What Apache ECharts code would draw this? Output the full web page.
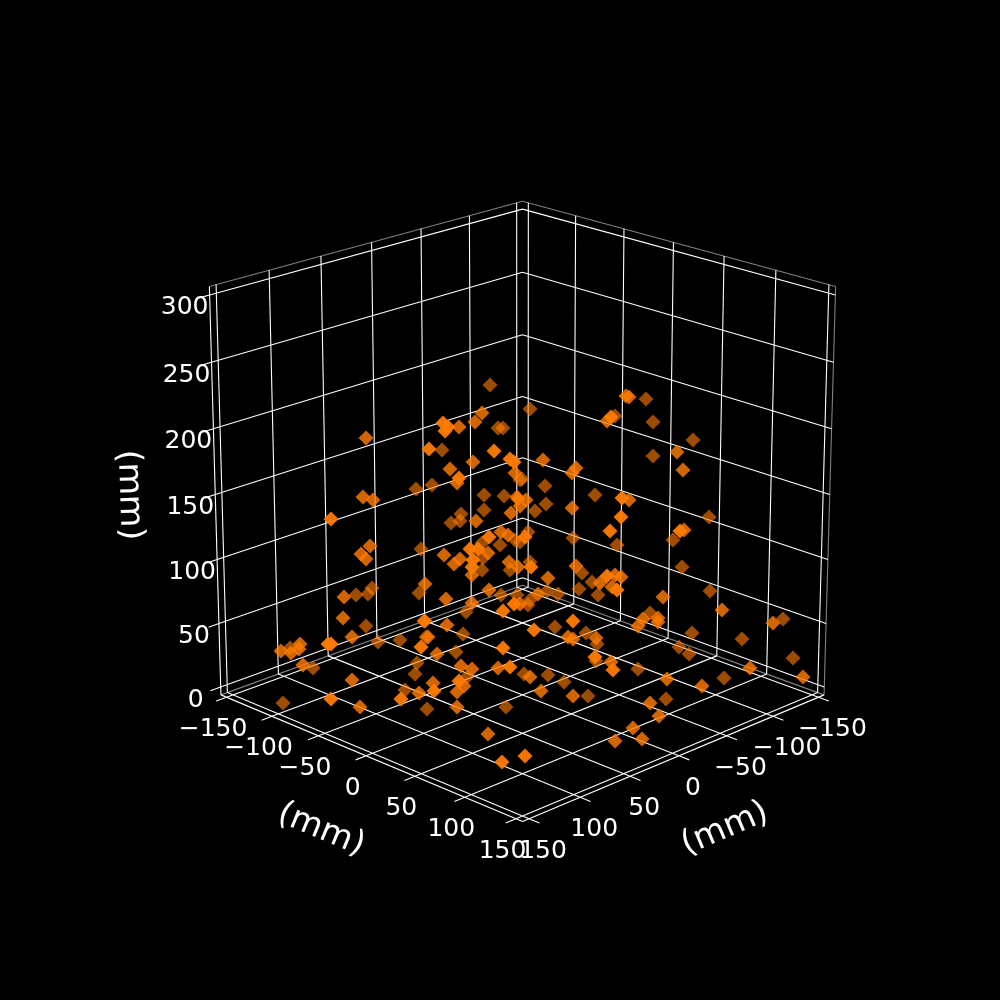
<!DOCTYPE html>
<html><head><meta charset="utf-8">
<style>html,body{margin:0;padding:0;background:#000}#c{width:1000px;height:1000px}</style>
<script src="https://cdn.jsdelivr.net/npm/echarts@6/dist/echarts.min.js"></script>
</head><body><div id="c"></div>
<script>
// Ticks of the three axes (mm)
const xTicks=[-150,-100,-50,0,50,100,150];
const yTicks=[-150,-100,-50,0,50,100,150];
const zTicks=[0,50,100,150,200,250,300];
const axisTitle='(mm)';
// Points, as positions on the projected view plane, grouped by depth shade
const nearPoints=[[328,644],[331,644],[331,699],[503,648],[534,630],[421,647],[459,681],[434,691],[401,699],[502,762],[525,756],[510,667],[573,621],[613,670],[595,657],[443,423],[448,427],[445,431],[494,451],[510,459],[514,462],[459,478],[331,519],[489,537],[525,537],[470,549],[478,549],[473,560],[472,567],[531,567],[503,611],[514,604],[611,417],[622,498],[621,517],[610,531],[680,531],[607,576],[617,590],[429,449]];
const midPoints=[[281,651],[300,644],[299,649],[291,653],[352,637],[343,618],[303,665],[352,680],[360,707],[425,621],[447,625],[428,637],[437,654],[461,666],[472,669],[433,683],[464,686],[419,693],[457,692],[457,707],[498,668],[530,677],[541,691],[488,734],[568,637],[643,619],[638,626],[658,618],[658,622],[722,610],[773,623],[803,677],[750,668],[702,686],[667,679],[650,703],[659,716],[611,662],[596,638],[573,639],[573,696],[633,728],[615,741],[642,739],[459,427],[475,422],[482,413],[366,438],[450,469],[473,462],[515,473],[457,483],[517,497],[363,497],[373,500],[370,546],[361,554],[366,559],[444,555],[425,584],[344,597],[446,599],[424,621],[518,499],[526,500],[520,506],[511,513],[476,521],[501,532],[508,535],[488,553],[460,559],[454,564],[472,575],[509,562],[518,567],[548,578],[489,590],[538,594],[472,603],[520,604],[626,396],[629,397],[607,421],[677,452],[683,470],[543,460],[576,468],[572,473],[629,500],[572,508],[684,530],[576,566],[600,583],[615,575],[621,577],[612,587],[663,597]];
const farPoints=[[290,648],[366,626],[378,642],[313,668],[283,703],[400,640],[426,637],[463,634],[456,652],[417,663],[415,674],[467,677],[405,690],[427,709],[555,627],[524,674],[548,675],[564,682],[506,707],[650,613],[783,619],[692,633],[742,639],[793,658],[724,678],[689,654],[679,647],[666,699],[638,669],[596,661],[597,644],[586,633],[588,696],[490,385],[498,428],[503,428],[442,450],[520,480],[416,489],[432,485],[484,495],[504,496],[421,549],[419,593],[372,588],[368,594],[356,595],[546,504],[484,510],[535,511],[461,514],[460,521],[451,523],[515,540],[520,542],[528,532],[482,543],[500,545],[483,558],[482,570],[530,562],[510,570],[501,595],[517,595],[547,591],[558,594],[466,612],[530,600],[528,605],[530,409],[646,399],[615,416],[653,422],[693,440],[653,456],[522,479],[545,486],[595,495],[709,517],[673,540],[573,538],[617,545],[682,567],[582,573],[592,582],[579,589],[598,595],[710,591]];

// View of the box (matplotlib-style perspective)
const L=156.25, zMin=-6.25, zMax=306.25;
const view={elev:20,azim:45,dist:10,half:0.55,cx:522.5,cy:494.5,scale:3950};
function project(x,y,z){
  const w=[x/L*view.half,y/L*view.half,(z-150)/156.25*view.half];
  const e=view.elev*Math.PI/180,a=view.azim*Math.PI/180;
  const r=[-Math.sin(a),Math.cos(a),0];
  const u=[-Math.sin(e)*Math.cos(a),-Math.sin(e)*Math.sin(a),Math.cos(e)];
  const n=[Math.cos(e)*Math.cos(a),Math.cos(e)*Math.sin(a),Math.sin(e)];
  const dot=(p,q)=>p[0]*q[0]+p[1]*q[1]+p[2]*q[2];
  const d=view.dist-dot(w,n);
  return [view.cx+dot(w,r)/d*view.scale,view.cy-dot(w,u)/d*view.scale];
}
function path(segs){const o=[];segs.forEach(s=>{s.forEach(p=>o.push(project(p[0],p[1],p[2])));o.push([null,null]);});return o;}

const gridSegs=[];
xTicks.forEach(t=>{gridSegs.push([[t,-L,zMin],[t,L,zMin]]);gridSegs.push([[t,-L,zMin],[t,-L,zMax]]);});
yTicks.forEach(t=>{gridSegs.push([[-L,t,zMin],[L,t,zMin]]);gridSegs.push([[-L,t,zMin],[-L,t,zMax]]);});
zTicks.forEach(t=>{gridSegs.push([[-L,-L,t],[L,-L,t]]);gridSegs.push([[-L,-L,t],[-L,L,t]]);});
const tickOut=10;
const axisSegs=[[[-L,L,zMin],[L,L,zMin]],[[L,-L,zMin],[L,L,zMin]],[[L,-L,zMin],[L,-L,zMax]]];
xTicks.forEach(t=>axisSegs.push([[t,L,zMin],[t,L+tickOut,zMin]]));
yTicks.forEach(t=>axisSegs.push([[L,t,zMin],[L+tickOut,t,zMin]]));
zTicks.forEach(t=>axisSegs.push([[L,-L,t],[L+tickOut,-L,t]]));
const paneSegs=[[[-L,-L,zMax],[L,-L,zMax]],[[-L,-L,zMax],[-L,L,zMax]],[[-L,L,zMin],[-L,L,zMax]],[[-L,-L,zMin],[L,-L,zMin]],[[-L,-L,zMin],[-L,L,zMin]]];

const fmt=t=>String(t).replace('-','\u2212');
const texts=[];
xTicks.forEach(t=>{const p=project(t,L,zMin);texts.push({value:[p[0]+14,p[1]+32.5],t:fmt(t),s:25,r:0});});
yTicks.forEach(t=>{const p=project(L,t,zMin);texts.push({value:[p[0]-13.5,p[1]+32.5],t:fmt(t),s:25,r:0});});
zTicks.forEach(t=>{const p=project(L,-L,t);texts.push({value:[p[0]-25,p[1]+13],t:fmt(t),s:25,r:0});});
texts.push({value:[725,829],t:axisTitle,s:33.3,r:23});
texts.push({value:[321,830],t:axisTitle,s:33.3,r:-22.5});
texts.push({value:[129,495],t:axisTitle,s:33.3,r:-88});

const lineSeries=(segs,color,width)=>({type:'line',data:path(segs),symbol:'none',silent:true,connectNulls:false,animation:false,z:1,
  lineStyle:{color:color,width:width}});
const dotSeries=(pts,op,z)=>({type:'scatter',data:pts,symbol:'diamond',symbolSize:15,silent:true,animation:false,z:z,
  itemStyle:{color:'#ff7b00',opacity:op}});

const chart=echarts.init(document.getElementById('c'),null,{renderer:'canvas'});
chart.setOption({
  backgroundColor:'#000',animation:false,
  grid:{left:0,right:0,top:0,bottom:0},
  xAxis:{type:'value',min:0,max:1000,show:false},
  yAxis:{type:'value',min:0,max:1000,inverse:true,show:false},
  series:[
    lineSeries(paneSegs,'rgba(255,255,255,0.5)',1.1),
    lineSeries(gridSegs,'#ffffff',1.1),
    lineSeries(axisSegs,'#ffffff',1.1),
    dotSeries(farPoints,0.62,2),
    dotSeries(midPoints,0.82,3),
    dotSeries(nearPoints,0.95,4),
    {type:'custom',data:texts,silent:true,animation:false,z:5,coordinateSystem:'cartesian2d',
     encode:{x:0,y:1},
     renderItem:(params,api)=>{
       const it=texts[params.dataIndex];const c=api.coord([it.value[0],it.value[1]]);
       return {type:'text',x:c[0],y:c[1],rotation:it.r*Math.PI/180,
         style:{text:it.t,fill:'#fff',font:it.s+'px "DejaVu Sans"',align:'center',verticalAlign:'middle'}};
     }}
  ]
});
</script></body></html>
